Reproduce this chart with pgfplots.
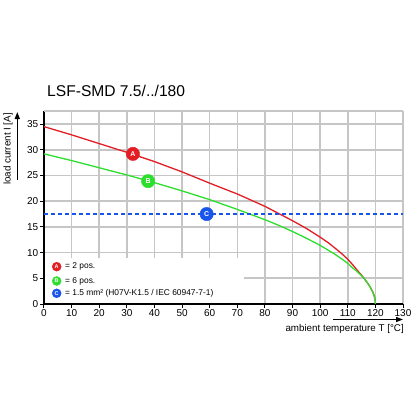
\documentclass[border=0pt]{standalone}
\usepackage{fontspec}
\setmainfont{Liberation Sans}
\usepackage{pgfplots}
\pgfplotsset{compat=1.18}
\usetikzlibrary{arrows.meta}
\definecolor{cred}{RGB}{226,30,36}
\definecolor{cgreen}{RGB}{45,222,45}
\definecolor{cblue}{RGB}{25,85,235}
\definecolor{cgrid}{RGB}{198,198,198}
\begin{document}
\begin{tikzpicture}[x=1pt,y=1pt]
\begin{axis}[
  at={(44pt,-304pt)}, anchor=south west, scale only axis,
  width=359pt, height=192.8pt,
  xmin=0, xmax=130, ymin=0, ymax=37.5,
  xtick={0,10,...,130}, ytick={0,5,...,35},
  axis x line*=bottom, axis y line*=left,
  axis line style={line width=1.6pt, black},
  tick align=outside, major tick length=4pt,
  tick style={black, line width=1pt},
  xmajorgrids=true, ymajorgrids=true,
  major grid style={draw=cgrid, line width=1.6pt},
  ticklabel style={font=\fontsize{10}{12}\selectfont, inner sep=1.5pt},
  /pgf/number format/assume math mode=true,
  clip=false,
  letter/.style={only marks, mark=*, mark size=6.7pt, nodes near coords={#1},
    every node near coord/.append style={anchor=center, white, inner sep=0,
      font=\bfseries\fontsize{7}{7}\selectfont}},
  smallletter/.style={only marks, mark=*, mark size=4.5pt, nodes near coords={#1},
    every node near coord/.append style={anchor=center, white, inner sep=0,
      font=\bfseries\fontsize{5.5}{6}\selectfont}},
]
\draw[draw=cgrid, line width=1.6pt] (axis cs:0,37.5) -- (axis cs:130,37.5);
\fill[white] (axis cs:0.32,0.17) rectangle (axis cs:72.5,8.95);
\addplot[cred, line width=1.3pt] coordinates {
(0,34.5) (10,32.9) (20,31.2) (30,29.5) (40,27.7) (50,25.7) (60,23.5) (70,21.4)
(75,20.2) (80,19.0) (85,17.6) (90,16.2) (95,14.7) (100,13.0) (103,11.9) (106,10.6)
(108,9.7) (110,8.7) (112,7.5) (114,6.2) (115,5.6) (116,4.9) (117,4.2) (118,3.4)
(119,2.4) (119.5,1.7) (119.7,1.3) (119.9,0.75) (120,0)};
\addplot[cgreen, line width=1.3pt] coordinates {
(0,29.2) (10,27.9) (20,26.5) (30,25.1) (40,23.6) (50,22.0) (60,20.3) (70,18.4)
(80,16.4) (85,15.3) (90,14.1) (95,12.8) (100,11.4) (105,9.8) (108,8.7) (110,7.9)
(112,6.9) (113,6.5) (114,6.0) (115,5.5) (116,4.9) (117,4.2) (118,3.4) (119,2.4)
(119.5,1.7) (119.7,1.3) (119.9,0.75) (120,0)};
\addplot[cblue, line width=1.3pt, dash pattern=on 4pt off 3pt] coordinates {(0,17.5) (130,17.5)};
% curve markers
\addplot[letter=A, cred] coordinates {(32.2,29.2)};
\addplot[letter=B, cgreen] coordinates {(37.7,23.9)};
\addplot[letter=C, cblue] coordinates {(58.9,17.5)};
% legend
\addplot[smallletter=A, cred] coordinates {(4.6,7.26)};
\addplot[smallletter=B, cgreen] coordinates {(4.6,4.47)};
\addplot[smallletter=C, cblue] coordinates {(4.6,2.08)};
\node[anchor=west, inner sep=0, font=\fontsize{8.4}{10}\selectfont] at (axis cs:7.6,7.26) {= 2 pos.};
\node[anchor=west, inner sep=0, font=\fontsize{8.4}{10}\selectfont] at (axis cs:7.6,4.47) {= 6 pos.};
\node[anchor=west, inner sep=0, font=\fontsize{8.4}{10}\selectfont] at (axis cs:7.6,2.08) {= 1.5 mm² (H07V-K1.5 / IEC 60947-7-1)};
\end{axis}
\node[anchor=base west, inner sep=0, font=\fontsize{15.6}{18}\selectfont] at (47,-96.7) {LSF-SMD 7.5/../180};
\node[rotate=90, inner sep=0, font=\fontsize{9.8}{12}\selectfont] at (8,-149) {load current I [A]};
\draw[line width=1.3pt, -{Triangle[length=7pt,width=5pt]}] (17.3,-180) -- (17.3,-112);
\node[anchor=east, inner sep=0, font=\fontsize{9.8}{12}\selectfont] at (404,-329) {ambient temperature T [°C]};
\draw[line width=1.3pt, -{Triangle[length=7pt,width=5pt]}] (333,-319.5) -- (403,-319.5);
\path (0,0) rectangle (416,-416);
\end{tikzpicture}
\end{document}
